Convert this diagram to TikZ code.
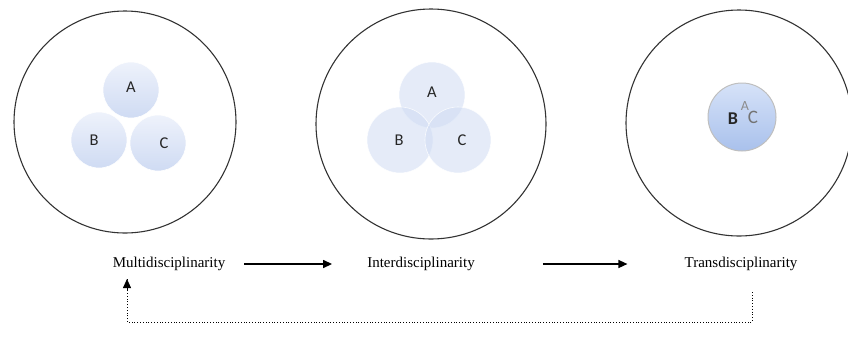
\documentclass[tikz,border=0pt]{standalone}
\usepackage{fontspec}
\setmainfont{Liberation Serif}
\newfontfamily\calfont{Carlito}
\usetikzlibrary{arrows.meta,shapes.geometric}
\definecolor{ringc}{HTML}{333333}
\definecolor{bluetop}{HTML}{EEF2FB}
\definecolor{bluebot}{HTML}{CFDBF3}
\definecolor{deeptop}{HTML}{D6E2F8}
\definecolor{deepbot}{HTML}{A9C1EC}
\begin{document}
\begin{tikzpicture}[x=1pt,y=-1pt,
  ring/.style={draw=ringc,line width=1.1pt,circle,inner sep=0pt},
  ball/.style={circle,minimum size=56pt,inner sep=0pt,top color=bluetop,bottom color=bluebot,draw=white,line width=0.6pt},
  vball/.style={circle,minimum size=66pt,inner sep=0pt,fill=bluebot,fill opacity=0.55,draw=white,draw opacity=0.8,line width=0.6pt},
  lab/.style={font=\calfont\fontsize{16.5}{18}\selectfont,text=black!85},
  word/.style={font=\fontsize{15}{18}\selectfont,inner sep=0pt},
  flow/.style={-{Triangle[length=9pt,width=8pt]},line width=1.4pt}]
\useasboundingbox (0,0) rectangle (848,349);
% big circles
\node[ring,minimum size=222pt] (r1) at (125,122) {};
\node[ring,minimum size=230pt] (r2) at (431,124) {};
\node[ring,minimum size=226pt] (r3) at (739,123) {};
% multidisciplinarity
\node[ball] (a1) at (131,90) {};
\node[ball] (b1) at (99,140) {};
\node[ball] (c1) at (158,143) {};
\node[lab] (la1) at (131,87) {A};
\node[lab] (lb1) at (94,140) {B};
\node[lab] (lc1) at (164,143) {C};
% interdisciplinarity
\node[vball] (a2) at (432,95) {};
\node[vball] (b2) at (400,140) {};
\node[vball] (c2) at (458,140) {};
\node[lab] (la2) at (432,92) {A};
\node[lab] (lb2) at (399,140) {B};
\node[lab] (lc2) at (462,140) {C};
% transdisciplinarity
\node[circle,minimum size=68pt,inner sep=0pt,top color=deeptop,bottom color=deepbot,draw=black!25,line width=1pt] (abc) at (742,117) {};
\node[font=\calfont\bfseries\fontsize{18}{19}\selectfont,text=black!85] (bb) at (733,119) {B};
\node[font=\calfont\fontsize{14}{15}\selectfont,text=black!45] (aa) at (745,106) {A};
\node[font=\calfont\fontsize{19}{20}\selectfont,text=black!55] (cc) at (753,117) {C};
% labels
\node[word] (m) at (169,264) {Multidisciplinarity};
\node[word] (i) at (421,264) {Interdisciplinarity};
\node[word] (t) at (741,264) {Transdisciplinarity};
\draw[flow,shorten <=19pt,shorten >=35pt] (m.east) -- (i.west);
\draw[flow,shorten <=68pt,shorten >=57pt] (i.east) -- (t.west);
\coordinate (t0) at (752,292);
\coordinate (t1) at (752,322);
\coordinate (m1) at (127,322);
\coordinate (m0) at (127,279);
\draw[dotted,line width=0.8pt] (t0) -- (t1) -- (m1) -- (m0);
\draw[-{Triangle[length=9pt,width=8pt]},line width=0.8pt] (127,290) -- (m0);
\end{tikzpicture}
\end{document}
